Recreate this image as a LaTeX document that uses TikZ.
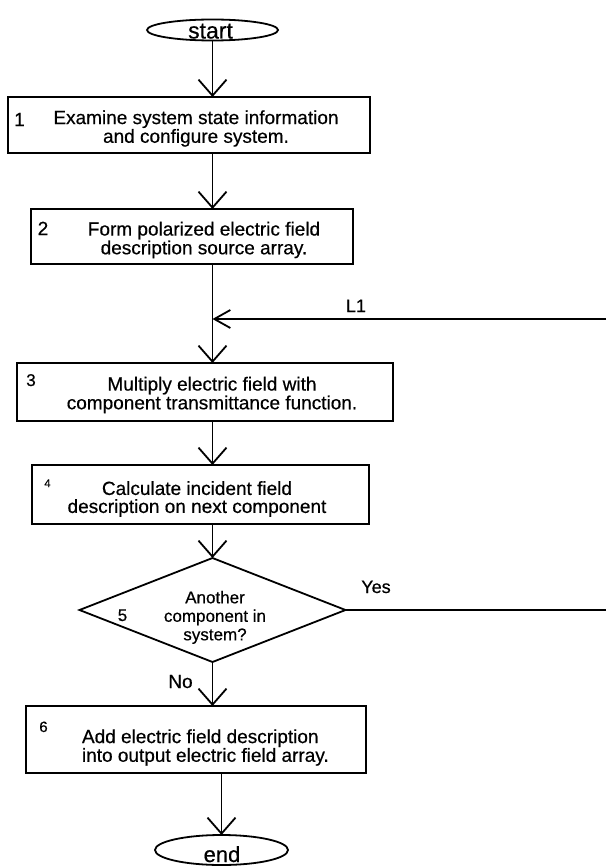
\documentclass[tikz,border=0pt]{standalone}
\usepackage{fontspec}
\setmainfont{Liberation Sans}[FakeBold=0.5]
\usetikzlibrary{shapes.geometric,arrows.meta}
\newcommand\fsz[2]{\fontsize{#1}{#2}\selectfont}
\begin{document}
\begin{tikzpicture}[x=1pt,y=-1pt,
  every node/.style={inner sep=0pt, outer sep=0pt},
  lw/.style={line width=1.8pt},
  box/.style={draw, rectangle, lw},
  term/.style={draw, ellipse, lw},
  test/.style={draw, diamond, lw},
  arr/.style={lw, -{Straight Barb[length=16pt,width=28pt]}},
  arrside/.style={lw, -{Straight Barb[length=16pt,width=18pt]}},
  link/.style={lw},
  body/.style={align=center, font=\fsz{19}{#1}},
  body/.default=16,
  num/.style={anchor=base, font=\fsz{#1}{#1}},
  num/.default=19
]
\fill[white] (0,0) rectangle (606,867);
\useasboundingbox (0,0) rectangle (606,867);

% terminals, process boxes and the decision
\node[term, minimum width=131pt, minimum height=21pt] (start) at (212.5,30) {};
\node[box, minimum width=362pt, minimum height=56pt] (b1) at (189,125) {};
\node[box, minimum width=322pt, minimum height=55pt] (b2) at (192,236.5) {};
\node[box, minimum width=376pt, minimum height=58pt] (b3) at (205,392) {};
\node[box, minimum width=337pt, minimum height=59pt] (b4) at (200.5,494.5) {};
\node[test, minimum width=266pt, minimum height=104pt] (dec) at (212.5,610) {};
\node[box, minimum width=340pt, minimum height=67pt] (b6) at (196,739.5) {};
\node[term, minimum width=133pt, minimum height=30pt] (end) at (221.5,850) {};

% texts
\node[num=23] (tstart) at (210.5,38.5) {start};
\node[num=22] (tend) at (222,862) {end};

\node[num] (n1) at (19.5,126) {1};
\node[body=15] (t1) at (196,128.5) {Examine system state information\\and configure system.};

\node[num] (n2) at (43,235) {2};
\node[body=16] (t2) at (204,240) {Form polarized electric field\\description source array.};

\node[num=17] (n3) at (31,386) {3};
\node[body=16] (t3) at (212,395) {Multiply electric field with\\component transmittance function.};

\node[num=11] (n4) at (47.5,487) {4};
\node[body=18] (t4) at (197,499) {Calculate incident field\\description on next component};

\node[num=17] (n5) at (122.5,621) {5};
\node[align=center, font=\fsz{17}{18.5}] (t5) at (215,617.4) {Another\\component in\\system?};

\node[num=15] (n6) at (43.5,732) {6};
\node[align=left, font=\fsz{19}{17}, anchor=west] (t6) at (82,747.5) {Add electric field description\\into output electric field array.};

% connectors
\coordinate (l1end) at (606,319);
\coordinate (yesend) at (606,610);

\draw[arr] (start.south) -- (start.south |- b1.north);
\draw[arr] (start.south |- b1.south) -- (start.south |- b2.north);
\draw[arr] (start.south |- b2.south) -- (start.south |- b3.north);
\draw[arrside] (l1end) -- (l1end -| start.south);
\node[num=18] (l1) at (356,312) {L1};
\draw[arr] (dec.north |- b3.south) -- (dec.north |- b4.north);
\draw[arr] (dec.north |- b4.south) -- (dec.north);
\draw[link] (dec.east) -- (yesend);
\node[num=18] (yes) at (376,593) {Yes};
\draw[arr] (dec.south) -- (dec.south |- b6.north);
\node[num] (no) at (180.5,688) {No};
\draw[arr] (end.north |- b6.south) -- (end.north);
\end{tikzpicture}
\end{document}
